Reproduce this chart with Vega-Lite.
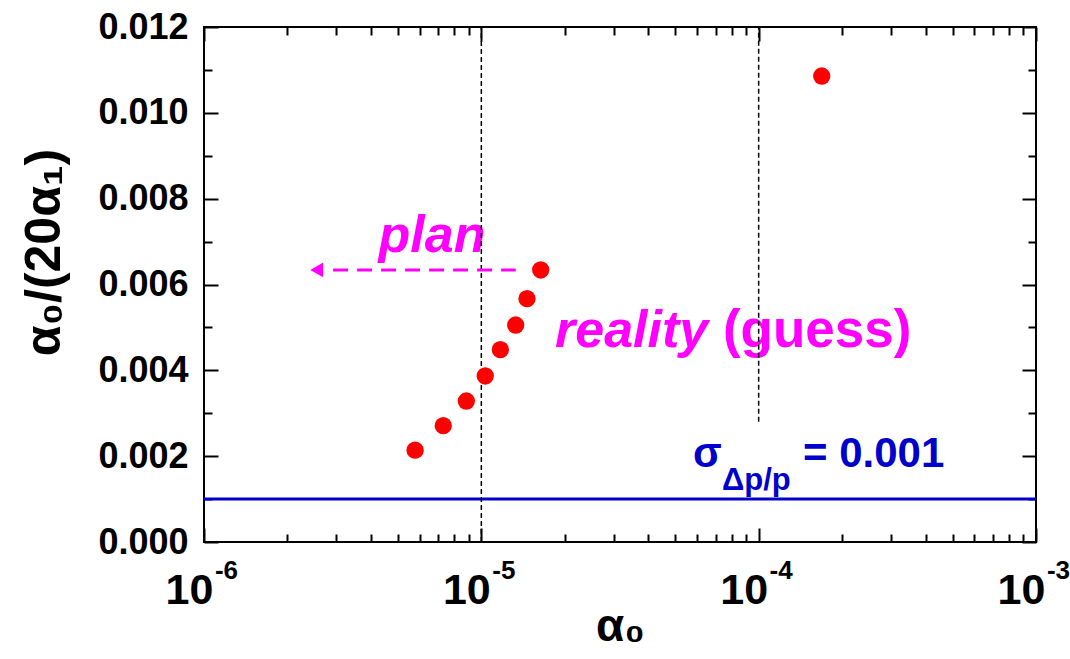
{
  "$schema": "https://vega.github.io/schema/vega-lite/v6.json",
  "width": 832,
  "height": 515,
  "autosize": "none",
  "padding": {"left": 204, "top": 27, "right": 34, "bottom": 117},
  "background": "white",
  "config": {
    "font": "Liberation Sans",
    "view": {"stroke": "black", "strokeWidth": 2},
    "axis": {"grid": false, "domain": false, "labelColor": "black", "titleColor": "black", "tickColor": "black", "labelFont": "Liberation Sans", "titleFont": "Liberation Sans"}
  },
  "resolve": {"scale": {"x": "shared", "y": "shared"}, "axis": {"x": "independent", "y": "independent"}},
  "layer": [
    {
      "data": {"values": [{"r": 0.001}]},
      "mark": {"type": "rule", "color": "#0000cc", "strokeWidth": 3},
      "encoding": {
        "y": {"field": "r", "type": "quantitative", "scale": {"domain": [0, 0.012], "nice": false, "zero": false}, "axis": null}
      }
    },
    {
      "data": {"values": [{"a0": 6.64e-6, "r": 0.00676, "label": "plan"}]},
      "mark": {"type": "text", "color": "#ff00ff", "font": "Liberation Sans", "fontSize": 52, "fontWeight": "bold", "fontStyle": "italic", "align": "center", "baseline": "alphabetic"},
      "encoding": {
        "x": {"field": "a0", "type": "quantitative", "scale": {"type": "log", "domain": [1e-6, 1e-3], "nice": false},
          "axis": {"orient": "top", "values": [1e-6, 1e-5, 1e-4, 1e-3], "labels": false, "ticks": true, "tickSize": 14, "offset": -14, "tickWidth": 2, "title": null}},
        "y": {"field": "r", "type": "quantitative", "scale": {"domain": [0, 0.012], "nice": false, "zero": false},
          "axis": {"orient": "left", "values": [0.001, 0.003, 0.005, 0.007, 0.009, 0.011], "labels": false, "ticks": true, "tickSize": 8, "offset": -8, "tickWidth": 2, "title": null}},
        "text": {"field": "label"}
      }
    },
    {
      "data": {"values": [{"a0": 1.844e-5, "r": 0.00455, "label": "reality"}]},
      "mark": {"type": "text", "color": "#ff00ff", "font": "Liberation Sans", "fontSize": 52, "fontWeight": "bold", "fontStyle": "italic", "align": "left", "baseline": "alphabetic"},
      "encoding": {
        "x": {"field": "a0", "type": "quantitative", "scale": {"type": "log", "domain": [1e-6, 1e-3], "nice": false},
          "axis": {"orient": "bottom", "values": [2e-6, 3e-6, 4e-6, 5e-6, 6e-6, 7e-6, 8e-6, 9e-6, 2e-5, 3e-5, 4e-5, 5e-5, 6e-5, 7e-5, 8e-5, 9e-5, 2e-4, 3e-4, 4e-4, 5e-4, 6e-4, 7e-4, 8e-4, 9e-4], "labels": false, "ticks": true, "tickSize": 8, "offset": -8, "tickWidth": 2, "title": null}},
        "y": {"field": "r", "type": "quantitative", "scale": {"domain": [0, 0.012], "nice": false, "zero": false},
          "axis": {"orient": "right", "values": [0.001, 0.003, 0.005, 0.007, 0.009, 0.011], "labels": false, "ticks": true, "tickSize": 8, "offset": -8, "tickWidth": 2, "title": null}},
        "text": {"field": "label"}
      }
    },
    {
      "data": {"values": [{"a0": 7.435e-5, "r": 0.00455, "label": "(guess)"}]},
      "mark": {"type": "text", "color": "#ff00ff", "font": "Liberation Sans", "fontSize": 53, "fontWeight": "bold", "align": "left", "baseline": "alphabetic"},
      "encoding": {
        "x": {"field": "a0", "type": "quantitative", "scale": {"type": "log", "domain": [1e-6, 1e-3], "nice": false},
          "axis": {"orient": "top", "values": [2e-6, 3e-6, 4e-6, 5e-6, 6e-6, 7e-6, 8e-6, 9e-6, 2e-5, 3e-5, 4e-5, 5e-5, 6e-5, 7e-5, 8e-5, 9e-5, 2e-4, 3e-4, 4e-4, 5e-4, 6e-4, 7e-4, 8e-4, 9e-4], "labels": false, "ticks": true, "tickSize": 8, "offset": -8, "tickWidth": 2, "title": null}},
        "y": {"field": "r", "type": "quantitative", "scale": {"domain": [0, 0.012], "nice": false, "zero": false}, "axis": null},
        "text": {"field": "label"}
      }
    },
    {
      "data": {"values": [{"a0": 5.8e-5, "r": 0.00175, "label": "σ"}, {"a0": 1.445e-4, "r": 0.00175, "label": "= 0.001"}]},
      "mark": {"type": "text", "color": "#0000cc", "font": "Liberation Sans", "fontSize": 42, "fontWeight": "bold", "align": "left", "baseline": "alphabetic"},
      "encoding": {
        "x": {"field": "a0", "type": "quantitative", "scale": {"type": "log", "domain": [1e-6, 1e-3], "nice": false}, "axis": null},
        "y": {"field": "r", "type": "quantitative", "scale": {"domain": [0, 0.012], "nice": false, "zero": false}, "axis": null},
        "text": {"field": "label"}
      }
    },
    {
      "data": {"values": [{"a0": 7.377e-5, "r": 0.00121, "label": "Δp/p"}]},
      "mark": {"type": "text", "color": "#0000cc", "font": "Liberation Sans", "fontSize": 31, "fontWeight": "bold", "align": "left", "baseline": "alphabetic"},
      "encoding": {
        "x": {"field": "a0", "type": "quantitative", "scale": {"type": "log", "domain": [1e-6, 1e-3], "nice": false}, "axis": null},
        "y": {"field": "r", "type": "quantitative", "scale": {"domain": [0, 0.012], "nice": false, "zero": false}, "axis": null},
        "text": {"field": "label"}
      }
    },
    {
      "data": {"values": [{"a0": 1e-5, "y0": 0, "y1": 0.012}, {"a0": 1e-4, "y0": 0.0028, "y1": 0.012}]},
      "mark": {"type": "rule", "color": "black", "strokeWidth": 1.5, "strokeDash": [5, 3]},
      "encoding": {
        "x": {"field": "a0", "type": "quantitative", "scale": {"type": "log", "domain": [1e-6, 1e-3], "nice": false}, "axis": null},
        "y": {"field": "y0", "type": "quantitative", "scale": {"domain": [0, 0.012], "nice": false, "zero": false}, "axis": null},
        "y2": {"field": "y1"}
      }
    },
    {
      "data": {"values": [{"a0": 2.92e-6, "r": 0.00634}, {"a0": 1.33e-5, "r": 0.00634}]},
      "mark": {"type": "line", "color": "#ff00ff", "strokeWidth": 3, "strokeDash": [15, 9]},
      "encoding": {
        "x": {"field": "a0", "type": "quantitative", "scale": {"type": "log", "domain": [1e-6, 1e-3], "nice": false},
          "axis": {"orient": "bottom", "values": [1e-6, 1e-5, 1e-4, 1e-3], "labels": false, "ticks": true, "tickSize": 14, "offset": -14, "tickWidth": 2, "title": null}},
        "y": {"field": "r", "type": "quantitative", "scale": {"domain": [0, 0.012], "nice": false, "zero": false},
          "axis": {"orient": "right", "values": [0, 0.002, 0.004, 0.006, 0.008, 0.01, 0.012], "labels": false, "ticks": true, "tickSize": 14, "offset": -14, "tickWidth": 2, "title": null}}
      }
    },
    {
      "data": {"values": [{"a0": 2.55e-6, "r": 0.00634}]},
      "mark": {"type": "point", "shape": "triangle-left", "filled": true, "color": "#ff00ff", "opacity": 1, "size": 220},
      "encoding": {
        "x": {"field": "a0", "type": "quantitative", "scale": {"type": "log", "domain": [1e-6, 1e-3], "nice": false},
          "axis": {"orient": "bottom", "values": [1e-6, 1e-5, 1e-4, 1e-3], "labelExpr": "'-' + round(-log(datum.value)/LN10)", "ticks": false, "labelFontSize": 26, "labelFontWeight": "bold", "labelBaseline": "alphabetic", "labelAlign": "center", "labelOffset": 22, "labelPadding": 36, "labelFlush": false, "labelOverlap": false, "title": null}},
        "y": {"field": "r", "type": "quantitative", "scale": {"domain": [0, 0.012], "nice": false, "zero": false},
          "axis": {"orient": "left", "values": [0, 0.002, 0.004, 0.006, 0.008, 0.01, 0.012], "labels": false, "ticks": true, "tickSize": 14, "offset": -14, "tickWidth": 2, "title": null}}
      }
    },
    {
      "data": {"values": [
        {"a0": 5.77e-6, "r": 0.00214},
        {"a0": 7.29e-6, "r": 0.00271},
        {"a0": 8.83e-6, "r": 0.003285},
        {"a0": 1.033e-5, "r": 0.003868},
        {"a0": 1.171e-5, "r": 0.004481},
        {"a0": 1.33e-5, "r": 0.005056},
        {"a0": 1.461e-5, "r": 0.005669},
        {"a0": 1.637e-5, "r": 0.006338},
        {"a0": 1.688e-4, "r": 0.010858}
      ]},
      "mark": {"type": "circle", "color": "#ff0000", "opacity": 1, "size": 300},
      "encoding": {
        "x": {"field": "a0", "type": "quantitative", "scale": {"type": "log", "domain": [1e-6, 1e-3], "nice": false},
          "axis": {"orient": "bottom", "values": [1e-6, 1e-5, 1e-4, 1e-3], "labelExpr": "'10'", "ticks": false, "labelFontSize": 43, "labelFontWeight": "bold", "labelBaseline": "alphabetic", "labelAlign": "center", "labelOffset": -15, "labelPadding": 61, "labelFlush": false, "labelOverlap": false,
            "title": "α₀", "titleFontSize": 46, "titleFontWeight": "bold", "titleY": 98, "titleBaseline": "alphabetic"}},
        "y": {"field": "r", "type": "quantitative", "scale": {"domain": [0, 0.012], "nice": false, "zero": false},
          "axis": {"orient": "left", "values": [0, 0.002, 0.004, 0.006, 0.008, 0.01, 0.012], "format": ".3f", "ticks": false, "labelFontSize": 36, "labelFontWeight": "bold", "labelPadding": 16, "labelBaseline": "middle", "labelFlush": false, "labelOverlap": false,
            "title": "α₀/(20α₁)", "titleFontSize": 50, "titleFontWeight": "bold", "titleAngle": 270, "titleX": -160, "titleY": 225, "titleBaseline": "middle", "titleAlign": "center"}}
      }
    }
  ]
}
